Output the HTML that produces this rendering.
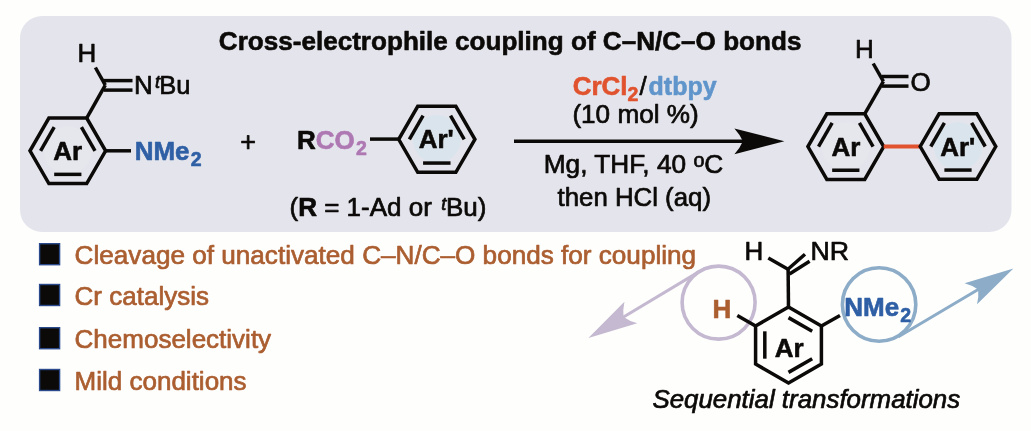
<!DOCTYPE html><html><head><meta charset="utf-8"><style>html,body{margin:0;padding:0;background:#fefefd;}svg{display:block;font-family:"Liberation Sans",sans-serif;will-change:transform;}text{stroke-linejoin:round;}</style></head><body>
<svg width="1031" height="431" viewBox="0 0 1031 431">
<rect x="0" y="0" width="1031" height="431" fill="#fefefd"/>
<rect x="20" y="16" width="991.5" height="216" rx="22" ry="22" fill="#e4e5ec"/>
<text x="218.8" y="50.3" font-size="26" font-weight="bold" font-style="normal" fill="#0c0a08" stroke="#0c0a08" stroke-width="0.6" text-anchor="start" textLength="582.6" lengthAdjust="spacingAndGlyphs">Cross-electrophile coupling of C–N/C–O bonds</text>
<circle cx="67.8" cy="150.3" r="24" fill="#e6e7ed"/>
<polygon points="105.60,150.80 86.70,183.54 48.90,183.54 30.00,150.80 48.90,118.06 86.70,118.06" fill="none" stroke="#0c0a08" stroke-width="3.5" stroke-linejoin="miter"/>
<line x1="81.41" y1="174.37" x2="54.19" y2="174.37" stroke="#0c0a08" stroke-width="3.5" stroke-linecap="butt"/>
<line x1="40.58" y1="150.80" x2="54.19" y2="127.23" stroke="#0c0a08" stroke-width="3.5" stroke-linecap="butt"/>
<line x1="81.41" y1="127.23" x2="95.02" y2="150.80" stroke="#0c0a08" stroke-width="3.5" stroke-linecap="butt"/>
<text x="67.8" y="159.5" font-size="26" font-weight="bold" font-style="normal" fill="#0c0a08" stroke="#0c0a08" stroke-width="0.6" text-anchor="middle">Ar</text>
<line x1="105.60" y1="150.80" x2="131.00" y2="150.80" stroke="#0c0a08" stroke-width="3.5" stroke-linecap="butt"/>
<text x="134.7" y="160.0" font-size="26" font-weight="bold" font-style="normal" fill="#2f5fa5" stroke="#2f5fa5" stroke-width="0.6" text-anchor="start">NMe<tspan font-size="19.5" dy="6" dx="1.2">2</tspan></text>
<line x1="86.70" y1="118.06" x2="105.30" y2="85.20" stroke="#0c0a08" stroke-width="3.5" stroke-linecap="butt"/>
<line x1="105.30" y1="85.20" x2="95.40" y2="67.50" stroke="#0c0a08" stroke-width="3.5" stroke-linecap="butt"/>
<line x1="103.90" y1="80.60" x2="132.50" y2="80.60" stroke="#0c0a08" stroke-width="3.5" stroke-linecap="butt"/>
<line x1="103.90" y1="90.10" x2="132.50" y2="90.10" stroke="#0c0a08" stroke-width="3.5" stroke-linecap="butt"/>
<text x="77.6" y="61.9" font-size="26" font-weight="normal" font-style="normal" fill="#0c0a08" stroke="#0c0a08" stroke-width="0.7" text-anchor="start">H</text>
<text x="134.0" y="94.3" font-size="26" font-weight="normal" font-style="normal" fill="#0c0a08" stroke="#0c0a08" stroke-width="0.7" text-anchor="start">N</text>
<text x="153" y="94.3" font-size="26" font-weight="normal" font-style="normal" fill="#0c0a08" stroke="#0c0a08" stroke-width="0.7" text-anchor="start"><tspan font-size="18.2" font-style="italic" dy="-6" dx="2.0">t</tspan><tspan dy="6" dx="-0.9" textLength="31.2" lengthAdjust="spacingAndGlyphs">Bu</tspan></text>
<text x="248.2" y="150.5" font-size="27" font-weight="normal" font-style="normal" fill="#0c0a08" stroke="#0c0a08" stroke-width="0.7" text-anchor="middle">+</text>
<text x="297.0" y="148.6" font-size="26" font-weight="bold" font-style="normal" fill="#0c0a08" stroke="#0c0a08" stroke-width="0.6" text-anchor="start">R</text>
<text x="315.8" y="148.6" font-size="26" font-weight="bold" font-style="normal" fill="#ae78b3" stroke="#ae78b3" stroke-width="0.6" text-anchor="start">CO<tspan font-size="19.5" dy="6" dx="1.3">2</tspan></text>
<circle cx="436.8" cy="139.1" r="24" fill="#d9e4ec"/>
<polygon points="474.90,139.30 455.85,172.30 417.75,172.30 398.70,139.30 417.75,106.30 455.85,106.30" fill="none" stroke="#0c0a08" stroke-width="3.5" stroke-linejoin="miter"/>
<line x1="450.52" y1="163.06" x2="423.08" y2="163.06" stroke="#0c0a08" stroke-width="3.5" stroke-linecap="butt"/>
<line x1="409.37" y1="139.30" x2="423.08" y2="115.54" stroke="#0c0a08" stroke-width="3.5" stroke-linecap="butt"/>
<line x1="450.52" y1="115.54" x2="464.23" y2="139.30" stroke="#0c0a08" stroke-width="3.5" stroke-linecap="butt"/>
<line x1="370.00" y1="139.10" x2="398.70" y2="139.10" stroke="#0c0a08" stroke-width="3.5" stroke-linecap="butt"/>
<text x="436.2" y="147.8" font-size="26" font-weight="bold" font-style="normal" fill="#0c0a08" stroke="#0c0a08" stroke-width="0.6" text-anchor="middle">Ar'</text>
<text x="289.5" y="215.9" font-size="26" font-weight="normal" font-style="normal" fill="#0c0a08" stroke="#0c0a08" stroke-width="0.7" text-anchor="start">(<tspan font-weight="bold">R</tspan> = 1-Ad or <tspan font-size="18.2" font-style="italic" dy="-6" dx="2.2">t</tspan><tspan dy="6" dx="-0.4">Bu)</tspan></text>
<line x1="514.00" y1="141.30" x2="743.90" y2="141.30" stroke="#0c0a08" stroke-width="3.5" stroke-linecap="butt"/>
<path d="M784.40,141.30 L734.40,154.20 Q740.25,147.75 742.90,141.30 Q740.25,134.85 734.40,128.40 Z" fill="#0c0a08"/>
<text x="572.7" y="94.9" font-size="26" font-weight="bold" font-style="normal" fill="#e0532e" stroke="#e0532e" stroke-width="0.6" text-anchor="start">CrCl<tspan font-size="19.5" dy="6">2</tspan></text>
<text x="639.6" y="94.9" font-size="26" font-weight="normal" font-style="normal" fill="#0c0a08" stroke="#0c0a08" stroke-width="0.7" text-anchor="start">/</text>
<text x="648.6" y="94.9" font-size="26" font-weight="bold" font-style="normal" fill="#5f95cb" stroke="#5f95cb" stroke-width="0.6" text-anchor="start" textLength="68.0" lengthAdjust="spacingAndGlyphs">dtbpy</text>
<text x="572.4" y="123.1" font-size="26" font-weight="normal" font-style="normal" fill="#0c0a08" stroke="#0c0a08" stroke-width="0.7" text-anchor="start" textLength="126.3" lengthAdjust="spacingAndGlyphs">(10 mol %)</text>
<text x="543.7" y="173.2" font-size="26" font-weight="normal" font-style="normal" fill="#0c0a08" stroke="#0c0a08" stroke-width="0.7" text-anchor="start" textLength="179.6" lengthAdjust="spacingAndGlyphs">Mg, THF, 40 <tspan font-size="19.5" dy="-6">o</tspan><tspan dy="6">C</tspan></text>
<text x="557.6" y="205.9" font-size="26" font-weight="normal" font-style="normal" fill="#0c0a08" stroke="#0c0a08" stroke-width="0.7" text-anchor="start" textLength="153.4" lengthAdjust="spacingAndGlyphs">then HCl (aq)</text>
<circle cx="845.8" cy="146.3" r="24" fill="#e6e7ed"/>
<polygon points="883.70,146.60 864.75,179.42 826.85,179.42 807.90,146.60 826.85,113.78 864.75,113.78" fill="none" stroke="#0c0a08" stroke-width="3.5" stroke-linejoin="miter"/>
<line x1="859.44" y1="170.23" x2="832.16" y2="170.23" stroke="#0c0a08" stroke-width="3.5" stroke-linecap="butt"/>
<line x1="818.51" y1="146.60" x2="832.16" y2="122.97" stroke="#0c0a08" stroke-width="3.5" stroke-linecap="butt"/>
<line x1="859.44" y1="122.97" x2="873.09" y2="146.60" stroke="#0c0a08" stroke-width="3.5" stroke-linecap="butt"/>
<text x="846.0" y="155.8" font-size="26" font-weight="bold" font-style="normal" fill="#0c0a08" stroke="#0c0a08" stroke-width="0.6" text-anchor="middle">Ar</text>
<line x1="864.75" y1="113.78" x2="883.40" y2="81.30" stroke="#0c0a08" stroke-width="3.5" stroke-linecap="butt"/>
<line x1="883.40" y1="81.30" x2="873.20" y2="63.50" stroke="#0c0a08" stroke-width="3.5" stroke-linecap="butt"/>
<line x1="882.00" y1="76.50" x2="908.50" y2="76.50" stroke="#0c0a08" stroke-width="3.5" stroke-linecap="butt"/>
<line x1="882.00" y1="86.10" x2="908.50" y2="86.10" stroke="#0c0a08" stroke-width="3.5" stroke-linecap="butt"/>
<text x="855.0" y="58.0" font-size="26" font-weight="normal" font-style="normal" fill="#0c0a08" stroke="#0c0a08" stroke-width="0.7" text-anchor="start">H</text>
<text x="910.5" y="90.5" font-size="26" font-weight="normal" font-style="normal" fill="#0c0a08" stroke="#0c0a08" stroke-width="0.7" text-anchor="start">O</text>
<line x1="883.70" y1="146.50" x2="920.30" y2="146.50" stroke="#e0532e" stroke-width="3.8" stroke-linecap="butt"/>
<circle cx="958" cy="146.3" r="24" fill="#d9e4ec"/>
<polygon points="995.80,146.50 976.90,179.24 939.10,179.24 920.20,146.50 939.10,113.76 976.90,113.76" fill="none" stroke="#0c0a08" stroke-width="3.5" stroke-linejoin="miter"/>
<line x1="971.61" y1="170.07" x2="944.39" y2="170.07" stroke="#0c0a08" stroke-width="3.5" stroke-linecap="butt"/>
<line x1="930.78" y1="146.50" x2="944.39" y2="122.93" stroke="#0c0a08" stroke-width="3.5" stroke-linecap="butt"/>
<line x1="971.61" y1="122.93" x2="985.22" y2="146.50" stroke="#0c0a08" stroke-width="3.5" stroke-linecap="butt"/>
<text x="957.7" y="155.8" font-size="26" font-weight="bold" font-style="normal" fill="#0c0a08" stroke="#0c0a08" stroke-width="0.6" text-anchor="middle">Ar'</text>
<rect x="39.6" y="243.7" width="20.0" height="21.0" fill="#0c0a08" stroke="#2b4a8c" stroke-width="1.4"/>
<text x="74.6" y="264.1" font-size="26" font-weight="normal" font-style="normal" fill="#ab5e30" stroke="#ab5e30" stroke-width="0.7" text-anchor="start" textLength="621.5" lengthAdjust="spacingAndGlyphs">Cleavage of unactivated C–N/C–O bonds for coupling</text>
<rect x="39.6" y="284.5" width="20.0" height="21.0" fill="#0c0a08" stroke="#2b4a8c" stroke-width="1.4"/>
<text x="74.6" y="304.90000000000003" font-size="26" font-weight="normal" font-style="normal" fill="#ab5e30" stroke="#ab5e30" stroke-width="0.7" text-anchor="start">Cr catalysis</text>
<rect x="39.6" y="327.7" width="20.0" height="21.0" fill="#0c0a08" stroke="#2b4a8c" stroke-width="1.4"/>
<text x="74.6" y="348.1" font-size="26" font-weight="normal" font-style="normal" fill="#ab5e30" stroke="#ab5e30" stroke-width="0.7" text-anchor="start">Chemoselectivity</text>
<rect x="39.6" y="369.5" width="20.0" height="21.0" fill="#0c0a08" stroke="#2b4a8c" stroke-width="1.4"/>
<text x="74.6" y="389.90000000000003" font-size="26" font-weight="normal" font-style="normal" fill="#ab5e30" stroke="#ab5e30" stroke-width="0.7" text-anchor="start">Mild conditions</text>
<circle cx="718.6" cy="302.6" r="36.5" fill="none" stroke="#c4b9d0" stroke-width="3.6"/>
<circle cx="879.1" cy="304.5" r="36.7" fill="none" stroke="#8cacc8" stroke-width="3.6"/>
<polygon points="788.50,307.00 821.41,326.00 821.41,364.00 788.50,383.00 755.59,364.00 755.59,326.00" fill="none" stroke="#0c0a08" stroke-width="3.5" stroke-linejoin="miter"/>
<line x1="788.50" y1="317.64" x2="812.19" y2="331.32" stroke="#0c0a08" stroke-width="3.5" stroke-linecap="butt"/>
<line x1="812.19" y1="358.68" x2="788.50" y2="372.36" stroke="#0c0a08" stroke-width="3.5" stroke-linecap="butt"/>
<line x1="764.81" y1="358.68" x2="764.81" y2="331.32" stroke="#0c0a08" stroke-width="3.5" stroke-linecap="butt"/>
<text x="789.2" y="357.4" font-size="26" font-weight="bold" font-style="normal" fill="#0c0a08" stroke="#0c0a08" stroke-width="0.6" text-anchor="middle">Ar</text>
<line x1="788.50" y1="307.00" x2="788.10" y2="268.30" stroke="#0c0a08" stroke-width="3.5" stroke-linecap="butt"/>
<line x1="788.90" y1="269.80" x2="768.30" y2="258.00" stroke="#0c0a08" stroke-width="3.5" stroke-linecap="butt"/>
<line x1="787.10" y1="270.00" x2="805.00" y2="254.30" stroke="#0c0a08" stroke-width="3.5" stroke-linecap="butt"/>
<line x1="789.50" y1="274.00" x2="809.60" y2="261.30" stroke="#0c0a08" stroke-width="3.5" stroke-linecap="butt"/>
<text x="744.6" y="260.3" font-size="26" font-weight="normal" font-style="normal" fill="#0c0a08" stroke="#0c0a08" stroke-width="0.7" text-anchor="start">H</text>
<text x="810.5" y="260.3" font-size="26" font-weight="normal" font-style="normal" fill="#0c0a08" stroke="#0c0a08" stroke-width="0.7" text-anchor="start" textLength="38.6" lengthAdjust="spacingAndGlyphs">NR</text>
<line x1="755.59" y1="326.00" x2="737.30" y2="315.40" stroke="#0c0a08" stroke-width="3.5" stroke-linecap="butt"/>
<text x="712.5" y="317.5" font-size="26" font-weight="bold" font-style="normal" fill="#ab5e30" stroke="#ab5e30" stroke-width="0.6" text-anchor="start">H</text>
<line x1="821.41" y1="326.00" x2="840.00" y2="315.40" stroke="#0c0a08" stroke-width="3.5" stroke-linecap="butt"/>
<text x="844.3" y="316.3" font-size="26" font-weight="bold" font-style="normal" fill="#2f5fa5" stroke="#2f5fa5" stroke-width="0.6" text-anchor="start">NMe<tspan font-size="19.5" dy="6" dx="1.0">2</tspan></text>
<line x1="699.60" y1="271.40" x2="622.72" y2="317.45" stroke="#c4b9d0" stroke-width="3.0" stroke-linecap="butt"/>
<path d="M588.40,338.00 L624.44,301.84 Q622.64,310.21 623.57,316.93 Q629.06,320.93 637.29,323.29 Z" fill="#c4b9d0"/>
<line x1="898.40" y1="336.80" x2="979.00" y2="289.00" stroke="#8cacc8" stroke-width="3.0" stroke-linecap="butt"/>
<path d="M1013.40,268.60 L977.05,304.34 Q978.97,296.11 978.14,289.51 Q972.74,285.62 964.60,283.36 Z" fill="#8cacc8"/>
<text x="652.4" y="407.8" font-size="26" font-weight="normal" font-style="italic" fill="#0c0a08" stroke="#0c0a08" stroke-width="0.7" text-anchor="start" textLength="307.8" lengthAdjust="spacingAndGlyphs">Sequential transformations</text>
</svg></body></html>
